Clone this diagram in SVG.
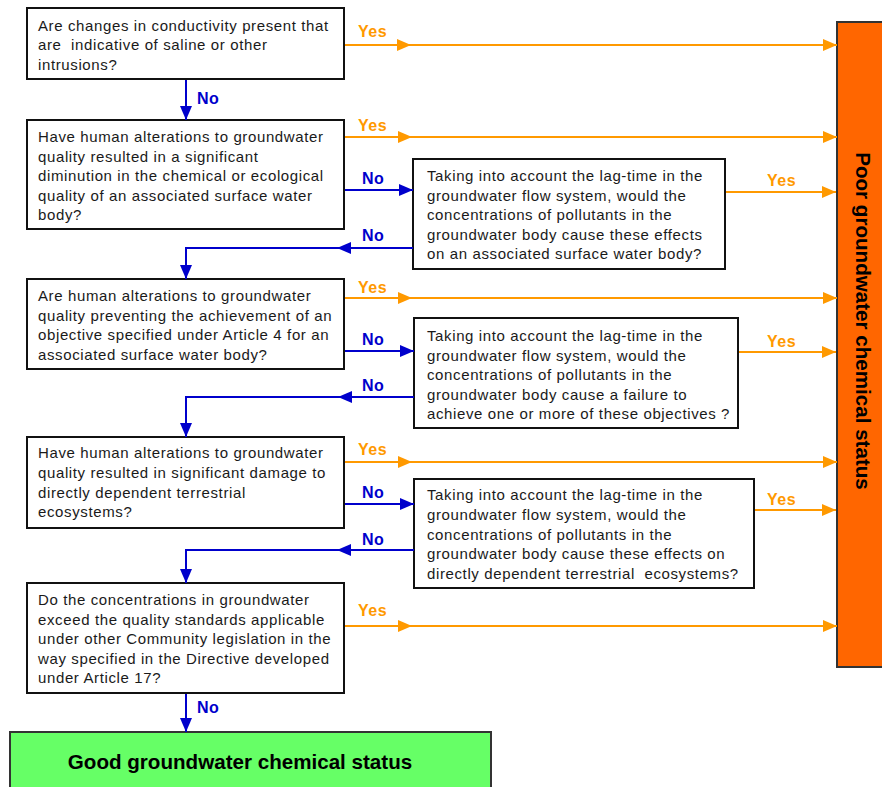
<svg xmlns="http://www.w3.org/2000/svg" width="882" height="787" viewBox="0 0 882 787">
<style>
.box{fill:#fff;stroke:#111;stroke-width:2}
.t{font-family:"Liberation Sans",Arial,sans-serif;font-size:15px;letter-spacing:0.62px;fill:#1a1a1a;white-space:pre}
.yes{font-family:"Liberation Sans",Arial,sans-serif;font-size:16px;font-weight:bold;letter-spacing:0.5px;fill:#FF9900}
.no{font-family:"Liberation Sans",Arial,sans-serif;font-size:16px;font-weight:bold;letter-spacing:0.5px;fill:#0000CC}
.big{font-family:"Liberation Sans",Arial,sans-serif;font-size:20.6px;font-weight:bold;fill:#000}
.o{fill:none;stroke:#FF9900;stroke-width:2;marker-end:url(#ao)}
.b{fill:none;stroke:#0000CC;stroke-width:2;marker-end:url(#ab)}
.bn{fill:none;stroke:#0000CC;stroke-width:2}
</style>
<defs>
<marker id="ao" markerUnits="userSpaceOnUse" markerWidth="14" markerHeight="12" refX="14" refY="6" orient="auto"><path d="M0,0 L14,6 L0,12 z" fill="#FF9900"/></marker>
<marker id="ab" markerUnits="userSpaceOnUse" markerWidth="14" markerHeight="12" refX="14" refY="6" orient="auto"><path d="M0,0 L14,6 L0,12 z" fill="#0000CC"/></marker>
</defs>

<g id="poor">
<rect x="837" y="22" width="60" height="645" fill="#FF6600" stroke="#333" stroke-width="2"/>
<text class="big" transform="translate(856,321) rotate(90)" text-anchor="middle">Poor groundwater chemical status</text>
</g>

<g id="good">
<rect x="10" y="732" width="481" height="70" fill="#66FF66" stroke="#333" stroke-width="2"/>
<text class="big" x="240" y="769" text-anchor="middle">Good groundwater chemical status</text>
</g>

<g id="q1">
<rect class="box" x="27" y="8" width="317" height="71"/>
<text class="t" x="38" y="30.5">Are changes in conductivity present that</text>
<text class="t" x="38" y="50">are  indicative of saline or other</text>
<text class="t" x="38" y="69.5">intrusions?</text>
</g>

<g id="q2">
<rect class="box" x="27" y="120" width="317" height="109"/>
<text class="t" x="38" y="142">Have human alterations to groundwater</text>
<text class="t" x="38" y="161.5">quality resulted in a significant</text>
<text class="t" x="38" y="181">diminution in the chemical or ecological</text>
<text class="t" x="38" y="200.5">quality of an associated surface water</text>
<text class="t" x="38" y="220">body?</text>
</g>

<g id="lag1">
<rect class="box" x="413" y="159" width="312" height="110"/>
<text class="t" x="427" y="181">Taking into account the lag-time in the</text>
<text class="t" x="427" y="200.5">groundwater flow system, would the</text>
<text class="t" x="427" y="220">concentrations of pollutants in the</text>
<text class="t" x="427" y="239.5">groundwater body cause these effects</text>
<text class="t" x="427" y="259">on an associated surface water body?</text>
</g>

<g id="q3">
<rect class="box" x="27" y="279" width="317" height="90"/>
<text class="t" x="38" y="301">Are human alterations to groundwater</text>
<text class="t" x="38" y="320.5">quality preventing the achievement of an</text>
<text class="t" x="38" y="340">objective specified under Article 4 for an</text>
<text class="t" x="38" y="359.5">associated surface water body?</text>
</g>

<g id="lag2">
<rect class="box" x="414" y="318" width="324" height="110"/>
<text class="t" x="427" y="341">Taking into account the lag-time in the</text>
<text class="t" x="427" y="360.5">groundwater flow system, would the</text>
<text class="t" x="427" y="380">concentrations of pollutants in the</text>
<text class="t" x="427" y="399.5">groundwater body cause a failure to</text>
<text class="t" x="427" y="419">achieve one or more of these objectives ?</text>
</g>

<g id="q4">
<rect class="box" x="27" y="437" width="317" height="91"/>
<text class="t" x="38" y="458">Have human alterations to groundwater</text>
<text class="t" x="38" y="478">quality resulted in significant damage to</text>
<text class="t" x="38" y="497.5">directly dependent terrestrial</text>
<text class="t" x="38" y="517">ecosystems?</text>
</g>

<g id="lag3">
<rect class="box" x="414" y="479" width="340" height="109"/>
<text class="t" x="427" y="500">Taking into account the lag-time in the</text>
<text class="t" x="427" y="520">groundwater flow system, would the</text>
<text class="t" x="427" y="539.5">concentrations of pollutants in the</text>
<text class="t" x="427" y="559">groundwater body cause these effects on</text>
<text class="t" x="427" y="578.5">directly dependent terrestrial  ecosystems?</text>
</g>

<g id="q5">
<rect class="box" x="27" y="583" width="317" height="110"/>
<text class="t" x="38" y="605">Do the concentrations in groundwater</text>
<text class="t" x="38" y="624.5">exceed the quality standards applicable</text>
<text class="t" x="38" y="644">under other Community legislation in the</text>
<text class="t" x="38" y="663.5">way specified in the Directive developed</text>
<text class="t" x="38" y="683">under Article 17?</text>
</g>

<g id="connectors">
<path class="o" d="M345 45 H411"/><path class="o" d="M411 45 H837"/>
<text class="yes" x="358" y="37">Yes</text>
<path class="b" d="M186 80 V120"/>
<text class="no" x="197" y="104">No</text>
<path class="o" d="M345 137 H412"/><path class="o" d="M412 137 H837"/>
<text class="yes" x="358" y="131">Yes</text>
<path class="b" d="M345 190 H413"/>
<text class="no" x="362" y="184">No</text>
<path class="o" d="M726 192 H836"/>
<text class="yes" x="767" y="186">Yes</text>
<path class="b" d="M413 248 H337"/><path class="bn" d="M337 248 H186 V266"/><path class="b" d="M186 260 V279"/>
<text class="no" x="362" y="241">No</text>
<path class="o" d="M345 298 H412"/><path class="o" d="M412 298 H837"/>
<text class="yes" x="358" y="293">Yes</text>
<path class="b" d="M345 351 H414"/>
<text class="no" x="362" y="345">No</text>
<path class="o" d="M739 352 H836"/>
<text class="yes" x="767" y="347">Yes</text>
<path class="b" d="M414 397 H338"/><path class="bn" d="M338 397 H186 V425"/><path class="b" d="M186 420 V437"/>
<text class="no" x="362" y="391">No</text>
<path class="o" d="M345 462 H412"/><path class="o" d="M412 462 H837"/>
<text class="yes" x="358" y="455">Yes</text>
<path class="b" d="M345 504 H414"/>
<text class="no" x="362" y="498">No</text>
<path class="o" d="M755 510 H836"/>
<text class="yes" x="767" y="505">Yes</text>
<path class="b" d="M414 550 H337"/><path class="bn" d="M337 550 H186 V570"/><path class="b" d="M186 565 V583"/>
<text class="no" x="362" y="545">No</text>
<path class="o" d="M345 626 H412"/><path class="o" d="M412 626 H837"/>
<text class="yes" x="358" y="616">Yes</text>
<path class="b" d="M186 694 V732"/>
<text class="no" x="197" y="713">No</text>
</g>
</svg>
